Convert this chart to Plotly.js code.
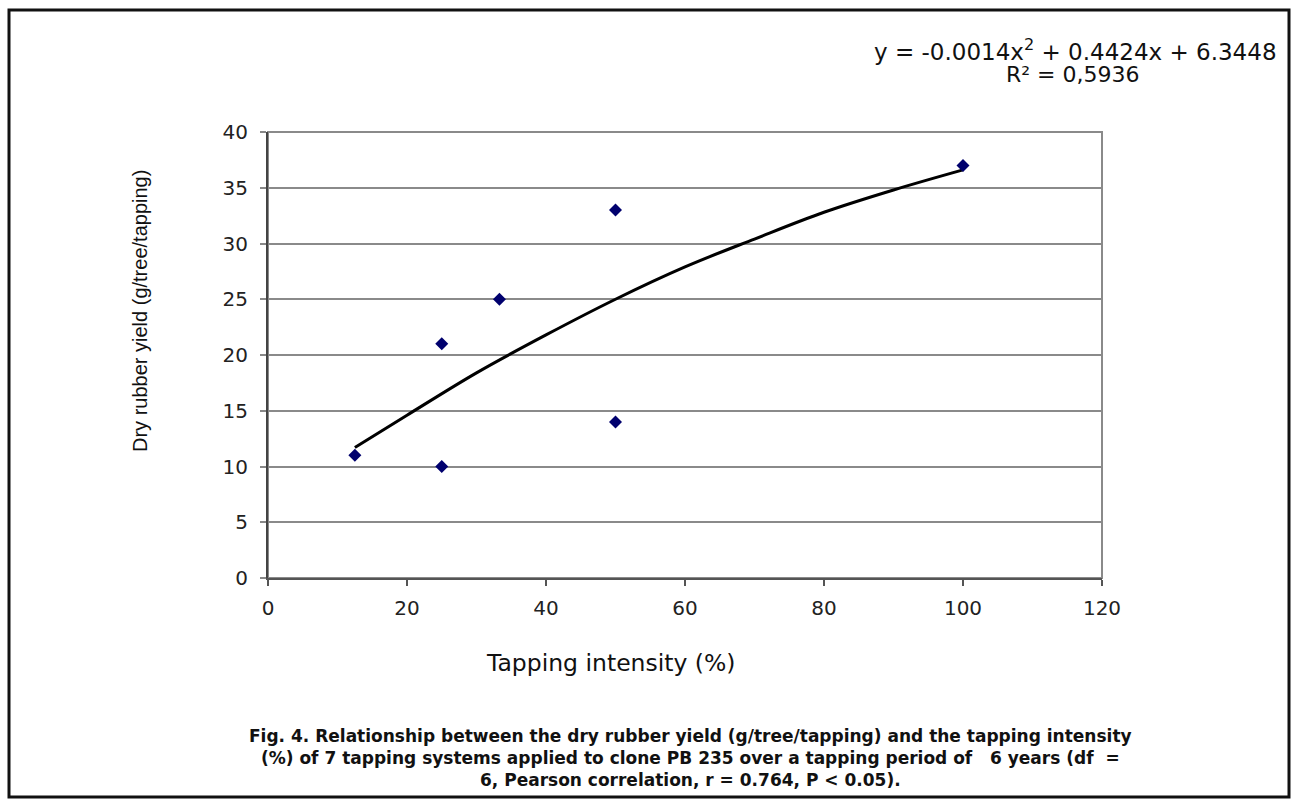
<!DOCTYPE html>
<html>
<head>
<meta charset="utf-8">
<script src="https://cdn.plot.ly/plotly-3.0.1.min.js"></script>
<style>html,body{margin:0;padding:0;background:#fff;}#chart{width:1297px;height:800px;}</style>
</head>
<body>
<div id="chart"></div>
<script>
// Observed data points
const intensity = [12.5, 25, 25, 33.3, 50, 50, 100];
const yieldVals = [11, 21, 10, 25, 33, 14, 37];

// Trendline
const trendX = [12.5, 20, 30, 40, 50, 60, 70, 80, 90, 100];
const trendY = [11.7, 14.6, 18.4, 21.8, 25.0, 27.9, 30.4, 32.8, 34.8, 36.6];

const xTicks = [0, 20, 40, 60, 80, 100, 120];
const yTicks = [0, 5, 10, 15, 20, 25, 30, 35, 40];

const equationText = 'y = -0.0014x<sup>2</sup> + 0.4424x + 6.3448';
const r2Text = 'R² = 0,5936';
const xTitle = 'Tapping intensity (%)';
const yTitle = 'Dry rubber yield (g/tree/tapping)';
const captionLines = [
  'Fig. 4. Relationship between the dry rubber yield (g/tree/tapping) and the tapping intensity',
  '(%) of 7 tapping systems applied to clone PB 235 over a tapping period of   6 years (df  =',
  '6, Pearson correlation, r = 0.764, P &lt; 0.05).'
];

const L = 268, R = 1102, T = 132, B = 578;
const W = R - L, H = B - T;
const px = x => (x - L) / W;
const py = y => (B - y) / H;

const font = 'DejaVu Sans, Arial, sans-serif';

const traces = [
  {
    x: trendX, y: trendY, type: 'scatter', mode: 'lines',
    line: {color: '#000', width: 3, shape: 'spline'},
    hoverinfo: 'skip', showlegend: false
  },
  {
    x: intensity, y: yieldVals, type: 'scatter', mode: 'markers',
    marker: {symbol: 'diamond', size: 10, color: '#00006e'},
    showlegend: false
  }
];

const layout = {
  width: 1297, height: 800,
  margin: {l: L, r: 1297 - R, t: T, b: 800 - B},
  paper_bgcolor: '#fff', plot_bgcolor: '#fff',
  showlegend: false,
  xaxis: {
    range: [0, 120], tickvals: xTicks, ticktext: xTicks.map(String),
    showgrid: false, zeroline: false,
    showline: true, linecolor: '#555', linewidth: 2,
    ticks: 'outside', ticklen: 6, tickwidth: 1.5, tickcolor: '#555',
    tickfont: {family: font, size: 20, color: '#222'},
    ticklabelstandoff: 5
  },
  yaxis: {
    range: [0, 40], tickvals: yTicks, ticktext: yTicks.map(String),
    showgrid: true, gridcolor: '#8a8a8a', gridwidth: 2,
    zeroline: false,
    showline: true, linecolor: '#444', linewidth: 2,
    ticks: 'outside', ticklen: 6, tickwidth: 2, tickcolor: '#888',
    tickfont: {family: font, size: 20, color: '#222'},
    ticklabelstandoff: 8
  },
  shapes: [
    {type: 'rect', xref: 'paper', yref: 'paper', x0: 0, x1: 1, y0: 0, y1: 1,
     line: {color: '#8a8a8a', width: 2}, layer: 'below'},
    {type: 'rect', xref: 'paper', yref: 'paper',
     x0: px(9), x1: px(1289), y0: py(797), y1: py(10),
     line: {color: '#111', width: 3}}
  ],
  annotations: [
    {xref: 'paper', yref: 'paper', x: px(1279), y: py(50), xanchor: 'right', yanchor: 'middle',
     text: equationText, showarrow: false, font: {family: font, size: 23, color: '#111'}},
    {xref: 'paper', yref: 'paper', x: px(1073), y: py(74), xanchor: 'center', yanchor: 'middle',
     text: r2Text, showarrow: false, font: {family: font, size: 22, color: '#111'}},
    {xref: 'paper', yref: 'paper', x: px(611), y: py(663), xanchor: 'center', yanchor: 'middle',
     text: xTitle, showarrow: false, font: {family: font, size: 23.5, color: '#111'}},
    {xref: 'paper', yref: 'paper', x: px(140), y: py(311), xanchor: 'center', yanchor: 'middle',
     text: yTitle, textangle: -90, showarrow: false,
     font: {family: 'Liberation Sans, Arial, sans-serif', size: 20, color: '#111'}},
    {xref: 'paper', yref: 'paper', x: px(690), y: py(758), xanchor: 'center', yanchor: 'middle',
     text: captionLines.join('<br>'), align: 'center', showarrow: false,
     font: {family: 'DejaVu Sans, Arial, sans-serif', size: 17, color: '#111', weight: 'bold'}}
  ]
};

Plotly.newPlot('chart', traces, layout, {staticPlot: true, displayModeBar: false});
</script>
</body>
</html>
